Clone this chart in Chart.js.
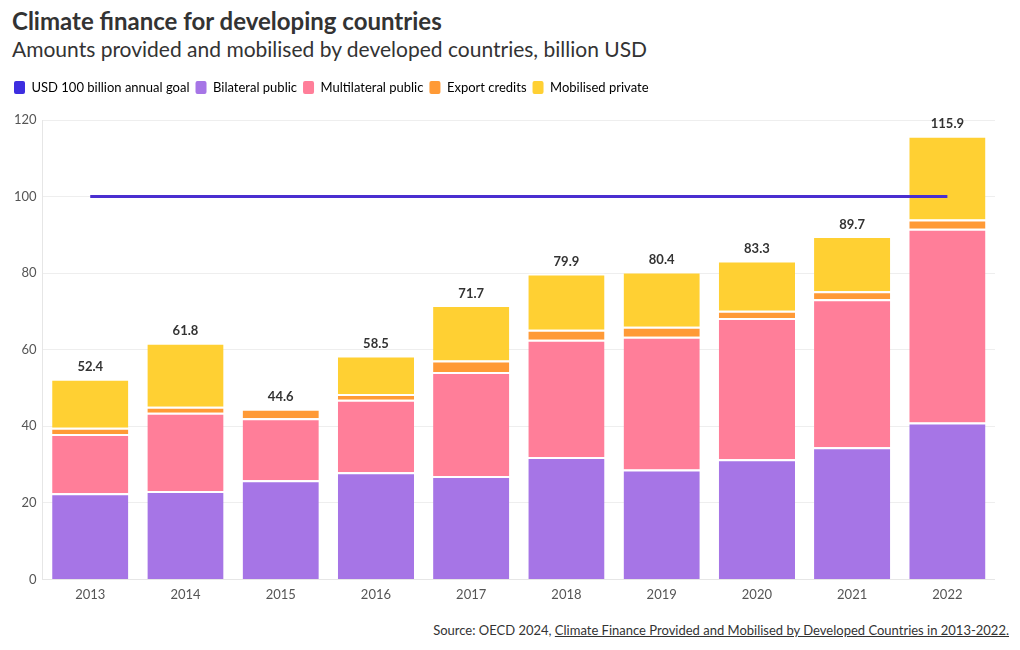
<!DOCTYPE html>
<html>
<head>
<meta charset="utf-8">
<script src="https://cdn.jsdelivr.net/npm/chart.js@4"></script>
<style>
  body { margin: 0; background: #fff; font-family: Lato, "Noto Sans", sans-serif; color: #333; }
  .wrap { position: relative; width: 1020px; height: 650px; }
  h1 { position: absolute; left: 12px; top: 6px; margin: 0; font-size: 24px; font-weight: 700; color: #333; }
  h2 { position: absolute; left: 12px; top: 36px; margin: 0; font-size: 21px; font-weight: 400; color: #333; }
  .chart { position: absolute; left: 0; top: 75px; width: 995px; height: 528px; }
  .source { position: absolute; right: 11px; top: 622px; font-size: 13px; color: #333; }
  .source a { color: #333; }
</style>
</head>
<body>
<div class="wrap">
  <h1>Climate finance for developing countries</h1>
  <h2>Amounts provided and mobilised by developed countries, billion USD</h2>
  <div class="chart"><canvas id="financeChart"></canvas></div>
  <div class="source">Source: OECD 2024, <a href="#">Climate Finance Provided and Mobilised by Developed Countries in 2013-2022.</a></div>
</div>
<script>
const years = ["2013", "2014", "2015", "2016", "2017", "2018", "2019", "2020", "2021", "2022"];
const goal = [100, 100, 100, 100, 100, 100, 100, 100, 100, 100];
const bilateral = [22.5, 23.1, 25.9, 28.0, 27.0, 32.0, 28.7, 31.4, 34.5, 41.0];
const multilateral = [15.5, 20.4, 16.2, 18.9, 27.2, 30.6, 34.7, 36.9, 38.7, 50.6];
const exportCredits = [1.6, 1.6, 2.5, 1.5, 3.0, 2.6, 2.6, 1.9, 2.1, 2.4];
const mobilised = [12.8, 16.7, null, 10.1, 14.5, 14.7, 14.4, 13.1, 14.4, 21.9];
const totals = [52.4, 61.8, 44.6, 58.5, 71.7, 79.9, 80.4, 83.3, 89.7, 115.9];
const yTicks = [0, 20, 40, 60, 80, 100, 120];

const totalLabels = {
  id: "totalLabels",
  afterDatasetsDraw(chart) {
    const { ctx } = chart;
    const x = chart.scales.x;
    const y = chart.scales.y;
    ctx.save();
    ctx.font = "bold 13px Lato, 'Noto Sans', sans-serif";
    ctx.fillStyle = "#333";
    ctx.textAlign = "center";
    ctx.textBaseline = "bottom";
    totals.forEach((t, i) => {
      ctx.fillText(t.toFixed(1), x.getPixelForValue(i), y.getPixelForValue(t) - 5);
    });
    ctx.restore();
  }
};

// extra room between legend and plot
const legendGap = {
  id: "legendGap",
  beforeInit(chart) {
    const fit = chart.legend.fit;
    chart.legend.fit = function () {
      fit.call(this);
      this.height += 16;
    };
  }
};

function barSet(label, data, color) {
  return {
    type: "bar",
    label,
    data,
    backgroundColor: color,
    borderColor: "#fff",
    borderWidth: { top: 2, left: 0, right: 0, bottom: 0 },
    borderSkipped: false,
    stack: "s",
    categoryPercentage: 0.8,
    barPercentage: 1,
    order: 2
  };
}

new Chart(document.getElementById("financeChart"), {
  data: {
    labels: years,
    datasets: [
      {
        type: "line",
        label: "USD 100 billion annual goal",
        data: goal,
        borderColor: "#4a2fd0",
        backgroundColor: "#3d2ee0",
        borderWidth: 3,
        pointRadius: 0,
        order: 1
      },
      barSet("Bilateral public", bilateral, "#a675e6"),
      barSet("Multilateral public", multilateral, "#ff7e99"),
      barSet("Export credits", exportCredits, "#ff9a36"),
      barSet("Mobilised private", mobilised, "#ffd033")
    ]
  },
  options: {
    responsive: true,
    maintainAspectRatio: false,
    animation: false,
    layout: { padding: { left: 8, right: 0, top: 0, bottom: 0 } },
    plugins: {
      legend: {
        position: "top",
        align: "start",
        labels: {
          boxWidth: 11,
          boxHeight: 13,
          padding: 6,
          color: "#333",
          font: { family: "Lato, 'Noto Sans', sans-serif", size: 13 },
          generateLabels(chart) {
            return chart.data.datasets.map((d, i) => ({
              text: d.label,
              fillStyle: d.backgroundColor,
              strokeStyle: d.backgroundColor,
              lineWidth: 0,
              borderRadius: 2,
              datasetIndex: i,
              hidden: false
            }));
          }
        }
      },
      tooltip: { enabled: false }
    },
    scales: {
      x: {
        stacked: true,
        grid: { display: false },
        border: { color: "#e6e6e6" },
        ticks: { color: "#555", padding: 0, font: { family: "Lato, 'Noto Sans', sans-serif", size: 13 } }
      },
      y: {
        stacked: true,
        min: 0,
        max: 120,
        afterBuildTicks(scale) { scale.ticks = yTicks.map((v) => ({ value: v })); },
        grid: { color: "#eeeeee", drawTicks: false },
        border: { color: "#e6e6e6" },
        ticks: { color: "#555", padding: 6, font: { family: "Lato, 'Noto Sans', sans-serif", size: 13 } }
      }
    }
  },
  plugins: [totalLabels, legendGap]
});
</script>
</body>
</html>
